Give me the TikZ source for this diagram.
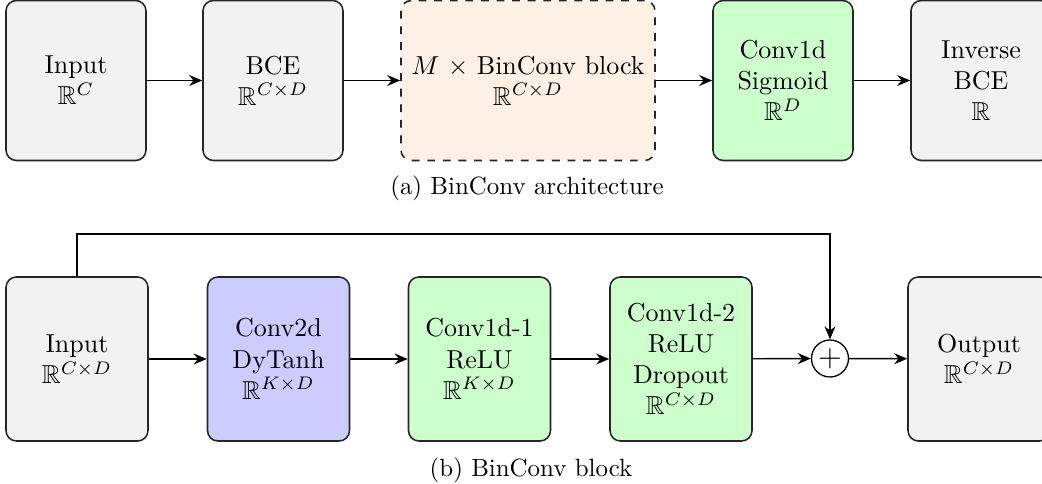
\documentclass[tikz,border=0pt]{standalone}
\usepackage{amssymb}
\usetikzlibrary{arrows.meta}
\newdimen\pxu \pxu=0.385pt
\definecolor{boxgray}{HTML}{F2F2F2}
\definecolor{boxblue}{HTML}{CCCCFF}
\definecolor{boxgreen}{HTML}{CCFFCC}
\definecolor{boxorange}{HTML}{FDF0E4}
\tikzset{
  blk/.style={draw=black!85, line width=0.6pt, rounded corners=4pt, align=center,
    font=\fontsize{10}{12}\selectfont, inner sep=2pt},
  topblk/.style={blk, minimum width=140\pxu, minimum height=160\pxu},
  botblk/.style={blk, minimum width=142\pxu, minimum height=164\pxu},
  conn/.style={draw=black, line width=0.55pt, -{Stealth[length=5pt,width=4.2pt]}},
  capt/.style={font=\fontsize{9.6}{11}\selectfont, inner sep=0pt},
}
\begin{document}
\begin{tikzpicture}[x=\pxu, y=-\pxu]
\useasboundingbox (0,0) rectangle (1042,484);
% top row
\node[topblk, fill=boxgray] (in1) at (76,80.5) {Input\\$\mathbb{R}^{C}$};
\node[topblk, fill=boxgray] (bce) at (273,80.5) {BCE\\$\mathbb{R}^{C\times D}$};
\node[topblk, fill=boxorange, dashed, minimum width=254\pxu] (mbl) at (528,80.5) {$M$ $\times$ BinConv block\\$\mathbb{R}^{C\times D}$};
\node[topblk, fill=boxgreen] (c1s) at (783,80.5) {Conv1d\\Sigmoid\\$\mathbb{R}^{D}$};
\node[topblk, fill=boxgray] (inv) at (981,80.5) {Inverse\\BCE\\$\mathbb{R}$};
\draw[conn] (in1) -- (bce);
\draw[conn] (bce) -- (mbl);
\draw[conn] (mbl) -- (c1s);
\draw[conn] (c1s) -- (inv);
\node[capt] (capa) at (527,188) {(a) BinConv architecture};
% bottom row
\node[botblk, fill=boxgray] (in2) at (77,359) {Input\\$\mathbb{R}^{C\times D}$};
\node[botblk, fill=boxblue] (c2d) at (278.5,359) {Conv2d\\DyTanh\\$\mathbb{R}^{K\times D}$};
\node[botblk, fill=boxgreen] (c1a) at (479.5,359) {Conv1d-1\\ReLU\\$\mathbb{R}^{K\times D}$};
\node[botblk, fill=boxgreen] (c1b) at (681,359) {Conv1d-2\\ReLU\\Dropout\\$\mathbb{R}^{C\times D}$};
\node[draw=black, line width=0.5pt, circle, minimum size=37\pxu, inner sep=0pt, font=\fontsize{13}{14}\selectfont] (plus) at (830,358.5) {$+$};
\node[botblk, fill=boxgray] (out) at (979,359) {Output\\$\mathbb{R}^{C\times D}$};
\coordinate (sk1) at (77,234);
\coordinate (sk2) at (830,234);
\draw[conn] (in2) -- (c2d);
\draw[conn] (c2d) -- (c1a);
\draw[conn] (c1a) -- (c1b);
\draw[conn] (c1b) -- (plus);
\draw[conn] (plus) -- (out);
\draw[conn] (in2.north) -- (sk1) -- (sk2) -- (plus.north);
\node[capt] (capb) at (531,470) {(b) BinConv block};
\end{tikzpicture}
\end{document}
